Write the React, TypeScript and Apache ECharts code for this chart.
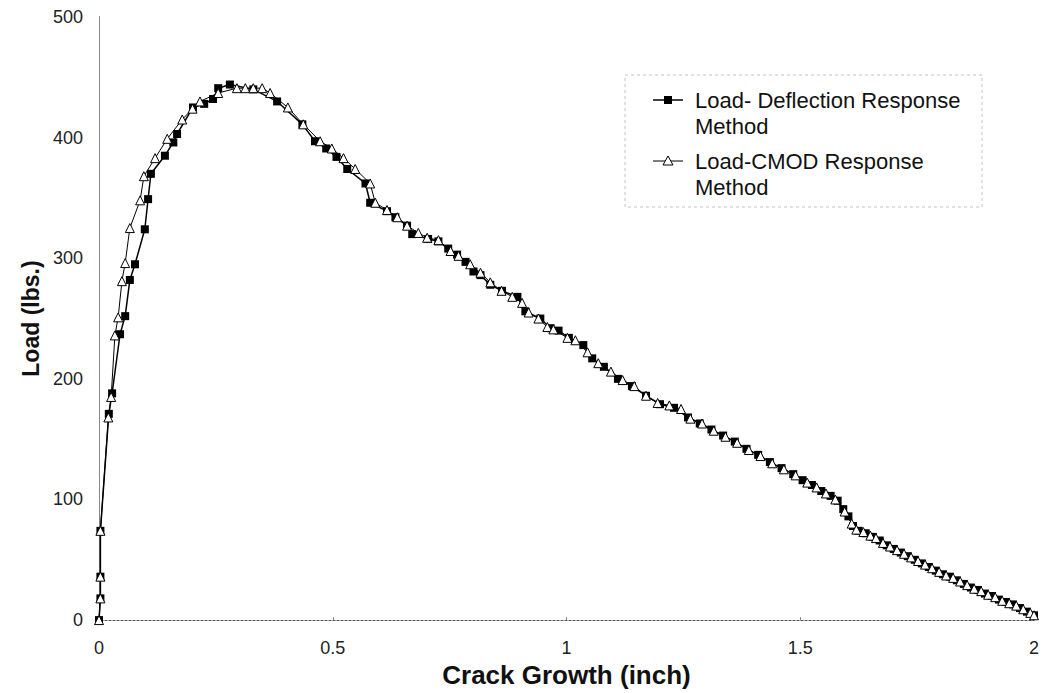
import React, { useEffect, useRef } from "react";
import * as echarts from "echarts";

const xTicks = [0, 0.5, 1, 1.5, 2];
const yTicks = [0, 100, 200, 300, 400, 500];

const deflectionName = "Load- Deflection Response Method";
const cmodName = "Load-CMOD Response Method";

const deflectionData: [number, number][] = [
  [0, 0], [0.003, 18], [0.003, 36], [0.003, 74], [0.021, 171], [0.028, 188],
  [0.045, 237], [0.056, 252], [0.066, 282], [0.077, 295], [0.098, 324], [0.105, 349],
  [0.111, 370], [0.141, 385], [0.159, 396], [0.167, 403], [0.201, 425], [0.225, 428],
  [0.244, 432], [0.255, 441], [0.28, 444], [0.33, 440], [0.381, 430], [0.435, 411],
  [0.462, 397], [0.486, 391], [0.508, 384], [0.531, 374], [0.57, 362], [0.58, 346],
  [0.616, 339], [0.634, 334], [0.659, 327], [0.67, 320], [0.704, 316], [0.726, 314],
  [0.747, 308], [0.766, 303], [0.784, 297], [0.801, 289], [0.816, 286], [0.837, 278],
  [0.862, 273], [0.895, 268], [0.912, 256], [0.944, 250], [0.966, 242], [0.983, 240],
  [1.005, 234], [1.036, 228], [1.055, 217], [1.08, 210], [1.11, 200], [1.14, 194],
  [1.17, 186], [1.2, 179], [1.23, 176], [1.26, 168], [1.285, 163], [1.31, 158],
  [1.335, 153], [1.36, 148], [1.385, 142], [1.41, 137], [1.435, 131], [1.46, 126],
  [1.485, 121], [1.505, 116], [1.525, 112], [1.545, 107], [1.565, 103], [1.58, 99],
  [1.592, 92], [1.603, 86], [1.613, 78], [1.625, 74], [1.64, 72], [1.655, 69],
  [1.67, 66], [1.685, 62], [1.7, 59], [1.715, 56], [1.73, 53], [1.745, 50],
  [1.76, 47], [1.775, 44], [1.79, 41], [1.805, 38], [1.82, 36], [1.835, 33],
  [1.85, 30], [1.865, 27], [1.88, 25], [1.895, 22], [1.91, 20], [1.925, 17],
  [1.94, 15], [1.955, 13], [1.97, 10], [1.985, 7], [2.0, 4],
];

const cmodData: [number, number][] = [
  [0, 0], [0.003, 18], [0.003, 36], [0.003, 74], [0.02, 168], [0.026, 185],
  [0.034, 236], [0.041, 251], [0.049, 281], [0.056, 296], [0.066, 325], [0.088, 348],
  [0.096, 368], [0.12, 383], [0.146, 399], [0.178, 415], [0.2, 424], [0.216, 430],
  [0.255, 437], [0.295, 441], [0.313, 441], [0.33, 441], [0.349, 441], [0.366, 437],
  [0.404, 425], [0.437, 411], [0.473, 397], [0.498, 391], [0.523, 383], [0.548, 374],
  [0.58, 362], [0.591, 346], [0.616, 340], [0.638, 334], [0.659, 327], [0.683, 321],
  [0.702, 317], [0.726, 315], [0.752, 306], [0.769, 302], [0.794, 295], [0.816, 288],
  [0.837, 280], [0.861, 273], [0.884, 268], [0.905, 263], [0.919, 255], [0.94, 250],
  [0.959, 243], [0.972, 241], [1.002, 234], [1.019, 232], [1.045, 222], [1.068, 213],
  [1.095, 206], [1.12, 199], [1.145, 194], [1.17, 186], [1.195, 180], [1.22, 178],
  [1.245, 175], [1.265, 167], [1.29, 163], [1.315, 157], [1.34, 152], [1.365, 147],
  [1.39, 141], [1.415, 136], [1.44, 130], [1.465, 125], [1.49, 120], [1.515, 114],
  [1.535, 110], [1.555, 105], [1.575, 100], [1.595, 90], [1.61, 80], [1.62, 75],
  [1.635, 73], [1.65, 70], [1.662, 68], [1.677, 64], [1.692, 61], [1.707, 58],
  [1.722, 55], [1.737, 52], [1.752, 49], [1.767, 46], [1.782, 43], [1.797, 40],
  [1.812, 37], [1.827, 35], [1.842, 32], [1.857, 29], [1.872, 26], [1.887, 24],
  [1.902, 21], [1.917, 19], [1.932, 16], [1.947, 14], [1.962, 12], [1.977, 9],
  [1.992, 6], [2.0, 4],
];

const FONT = "'Liberation Sans', Arial, sans-serif";

export default function App() {
  const ref = useRef<HTMLDivElement>(null);
  useEffect(() => {
    if (!ref.current) return;
    const chart = echarts.init(ref.current, undefined, { renderer: "svg" });
    chart.setOption({
      animation: false,
      backgroundColor: "#fff",
      grid: { left: 99, right: 10, top: 17, bottom: 72, containLabel: false },
      xAxis: [
        {
          type: "value",
          min: 0,
          max: 2,
          interval: 0.5,
          name: "Crack Growth (inch)",
          nameLocation: "middle",
          nameGap: 41,
          nameTextStyle: { fontFamily: FONT, fontSize: 26, fontWeight: "bold", color: "#111" },
          axisLine: { show: true, lineStyle: { color: "#222", width: 1 } },
          axisTick: { show: true, inside: true, length: 3, lineStyle: { color: "#888" } },
          axisLabel: {
            fontFamily: FONT, fontSize: 18, color: "#222", margin: 19,
            formatter: (v: number) => (xTicks.includes(v) ? String(v) : ""),
          },
          splitLine: { show: false },
        },
        {
          type: "value",
          position: "top",
          min: 0,
          max: 2,
          interval: 0.5,
          axisLine: { show: true, lineStyle: { color: "#aaa", width: 1, type: [2, 2] } },
          axisTick: { show: false },
          axisLabel: { show: false },
          splitLine: { show: false },
        },
      ],
      yAxis: [
        {
          type: "value",
          min: 0,
          max: 500,
          interval: 100,
          name: "Load (lbs.)",
          nameLocation: "middle",
          nameGap: 46,
          nameRotate: 90,
          nameTextStyle: { fontFamily: FONT, fontSize: 23, fontWeight: "bold", color: "#111" },
          axisLine: { show: true, lineStyle: { color: "#222", width: 1 } },
          axisTick: { show: false },
          axisLabel: {
            fontFamily: FONT, fontSize: 18, color: "#222", margin: 16,
            formatter: (v: number) => (yTicks.includes(v) ? String(v) : ""),
          },
          splitLine: { show: false },
        },
        {
          type: "value",
          position: "right",
          min: 0,
          max: 500,
          interval: 100,
          axisLine: { show: true, lineStyle: { color: "#888", width: 1 } },
          axisTick: { show: false },
          axisLabel: { show: false },
          splitLine: { show: false },
        },
      ],
      legend: { show: false },
      series: [
        {
          name: deflectionName,
          type: "line",
          data: deflectionData,
          symbol: "rect",
          symbolSize: 8,
          itemStyle: { color: "#000" },
          lineStyle: { color: "#000", width: 1.5 },
          z: 2,
        },
        {
          name: cmodName,
          type: "line",
          data: cmodData,
          symbol: "triangle",
          symbolSize: 9,
          itemStyle: { color: "#fff", borderColor: "#000", borderWidth: 1 },
          lineStyle: { color: "#000", width: 1 },
          z: 3,
        },
      ],
      graphic: [
        {
          type: "rect",
          shape: { x: 625, y: 75, width: 357, height: 132 },
          style: { fill: "#fff", stroke: "#c4c4c4", lineWidth: 1, lineDash: [3, 3] },
          z: 10,
        },
        {
          type: "line",
          shape: { x1: 653, y1: 100, x2: 683, y2: 100 },
          style: { stroke: "#000", lineWidth: 1.5 },
          z: 11,
        },
        {
          type: "rect",
          shape: { x: 664, y: 96, width: 8, height: 8 },
          style: { fill: "#000" },
          z: 12,
        },
        {
          type: "text",
          x: 695,
          y: 87,
          style: {
            text: "Load- Deflection Response\nMethod",
            font: `22px ${FONT}`,
            fill: "#111",
            verticalAlign: "top",
            lineHeight: 26,
          },
          z: 12,
        },
        {
          type: "line",
          shape: { x1: 653, y1: 161, x2: 683, y2: 161 },
          style: { stroke: "#000", lineWidth: 1 },
          z: 11,
        },
        {
          type: "polygon",
          shape: { points: [[668, 156], [673, 165], [663, 165]] },
          style: { fill: "#fff", stroke: "#000", lineWidth: 1 },
          z: 12,
        },
        {
          type: "text",
          x: 695,
          y: 148,
          style: {
            text: "Load-CMOD Response\nMethod",
            font: `22px ${FONT}`,
            fill: "#111",
            verticalAlign: "top",
            lineHeight: 26,
          },
          z: 12,
        },
      ],
    });
    return () => chart.dispose();
  }, []);
  return <div ref={ref} style={{ width: 1044, height: 693, position: "absolute", left: 0, top: 0 }} />;
}
